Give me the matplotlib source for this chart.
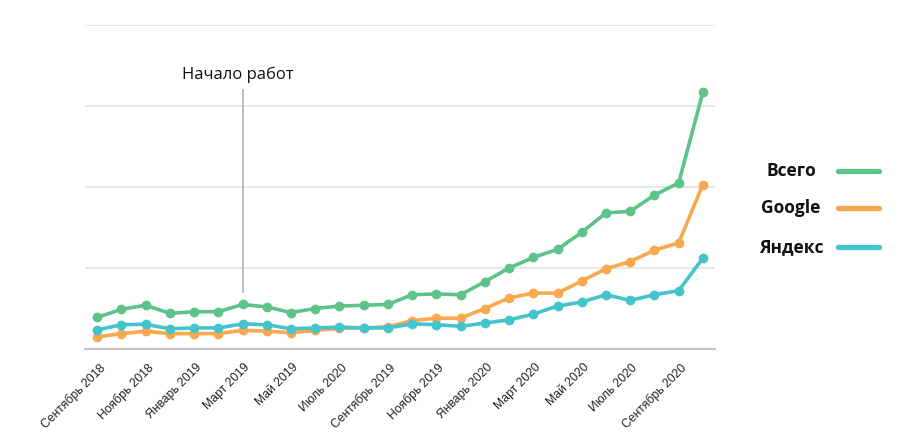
import matplotlib
matplotlib.use("Agg")
import matplotlib.pyplot as plt
from matplotlib.lines import Line2D
from matplotlib.transforms import ScaledTranslation

months = ["Сентябрь 2018", "Октябрь 2018", "Ноябрь 2018", "Декабрь 2018",
          "Январь 2019", "Февраль 2019", "Март 2019", "Апрель 2019",
          "Май 2019", "Июнь 2019", "Июль 2020", "Август 2019",
          "Сентябрь 2019", "Октябрь 2019", "Ноябрь 2019", "Декабрь 2019",
          "Январь 2020", "Февраль 2020", "Март 2020", "Апрель 2020",
          "Май 2020", "Июнь 2020", "Июль 2020", "Август 2020",
          "Сентябрь 2020", "Октябрь 2020"]

total = [390, 490, 540, 440, 460, 460, 550, 520, 450, 500, 530, 540, 550,
         670, 680, 670, 830, 1000, 1130, 1230, 1440, 1680, 1700, 1900, 2050, 3170]
google = [150, 190, 220, 190, 190, 190, 230, 220, 200, 230, 255, 260, 275,
          350, 380, 380, 500, 630, 690, 690, 840, 990, 1080, 1220, 1310, 2030]
yandex = [235, 300, 305, 250, 260, 260, 310, 300, 250, 260, 270, 260, 260,
          310, 300, 280, 320, 360, 430, 530, 580, 670, 600, 670, 720, 1120]

series_names = ["Всего", "Google", "Яндекс"]
colors = ["#5EC38A", "#F8A94E", "#43C4CD"]
annotation_label = "Начало работ"
annotation_index = 6

W, H = 900, 448
fig = plt.figure(figsize=(9, 4.48), dpi=100)
ax = fig.add_axes([85 / W, 1 - 349 / H, 630 / W, 324 / H])

x = list(range(len(months)))
for vals, c in zip([total, google, yandex], colors):
    ax.plot(x, vals, color=c, lw=2.6, marker="o", ms=6, solid_capstyle="round",
            solid_joinstyle="round", zorder=3)

ax.set_xlim(-0.5, len(months) - 0.5)
ax.set_ylim(0, 4000)
ax.set_yticks([0, 1000, 2000, 3000, 4000])
ax.yaxis.grid(True, color="#e3e3e3", lw=1.2)
ax.set_axisbelow(True)
ax.tick_params(axis="y", left=False, labelleft=False)
for s in ["top", "right", "left"]:
    ax.spines[s].set_visible(False)
ax.spines["bottom"].set_color("#c4c4c4")
ax.spines["bottom"].set_linewidth(1.5)

ticks = x[::2]
ax.set_xticks(ticks)
ax.set_xticklabels([months[i] for i in ticks], rotation=45, ha="right", va="top",
                   rotation_mode="anchor", fontsize=8.7, family="Liberation Sans",
                   color="#222222")
ax.tick_params(axis="x", length=0, pad=9)
off = ScaledTranslation(1.5 / 100, 0, fig.dpi_scale_trans)
for lab in ax.get_xticklabels():
    lab.set_transform(lab.get_transform() + off)

# annotation
ax.plot([annotation_index, annotation_index], [700, 3200], color="#b8b8c0", lw=1.3, zorder=2)
ax.text(annotation_index - 0.2, 3280, annotation_label, ha="center", va="bottom",
        fontsize=12, family="Open Sans", color="#111111")

# legend
for i, (name, c) in enumerate(zip(series_names, colors)):
    yy = [171, 208, 247][i]
    fig.text(791 / W, 1 - yy / H, name, ha="center", va="center", fontsize=12.5,
             fontweight="bold", family="Open Sans", color="#111111")
    fig.add_artist(Line2D([838 / W, 879 / W], [1 - yy / H, 1 - yy / H], color=c,
                          lw=3.8, solid_capstyle="round"))

fig.savefig("out.png", dpi=100)
